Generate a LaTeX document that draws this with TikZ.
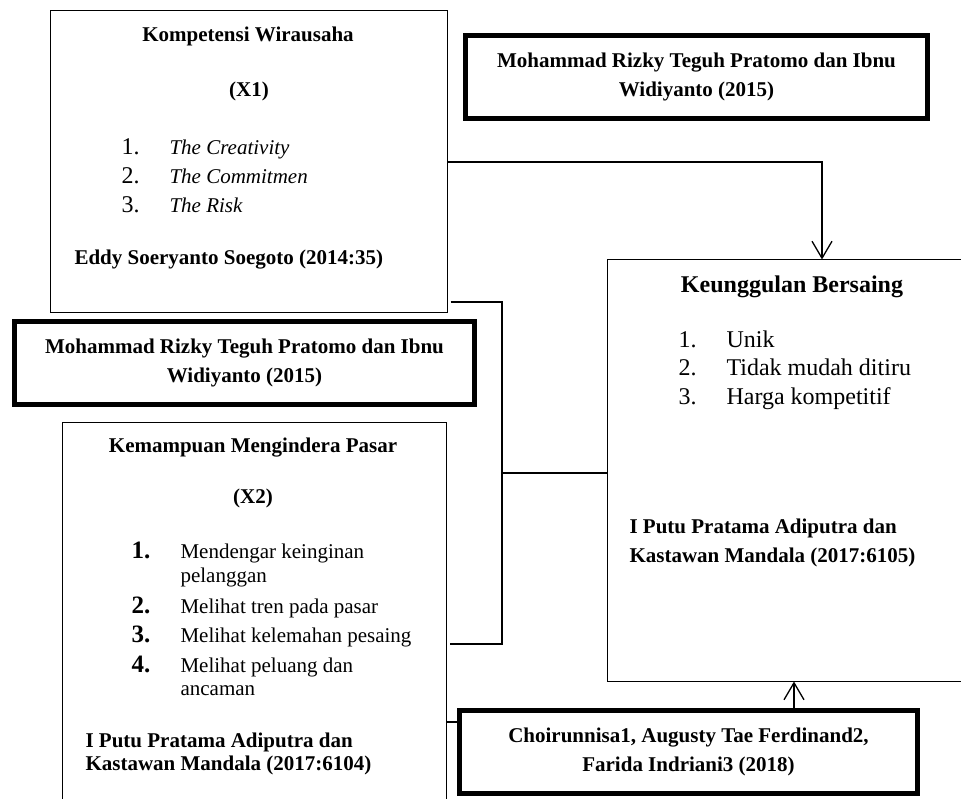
\documentclass[tikz,border=0pt]{standalone}
\usepackage{fontspec}
\setmainfont{Liberation Serif}
\usetikzlibrary{arrows.meta,positioning,calc}
\tikzset{
box/.style={draw, rectangle, line width=1pt, inner sep=0pt},
refbox/.style={draw, rectangle, line width=5pt, inner sep=0pt, align=center,
  font=\fontsize{21}{28.5}\selectfont\bfseries},
conn/.style={line width=1.3pt},
arr/.style={line width=1.3pt, -{Straight Barb[length=17pt,width=20pt]}},
ttl/.style={anchor=base, font=\fontsize{21}{25}\selectfont\bfseries},
auth/.style={anchor=base west, font=\fontsize{21}{25}\selectfont\bfseries},
num/.style={anchor=base west, font=\fontsize{24}{28}\selectfont},
item/.style={anchor=base west, font=\fontsize{21}{25}\selectfont},
}

\begin{document}
\begin{tikzpicture}[x=1pt, y=-1pt]
\useasboundingbox (0,0) rectangle (961,799);
\clip (0,0) rectangle (961,799);

% boxes
\node[box, minimum width=397pt, minimum height=302pt] (x1) at (248.5,162) {};
\node[box, minimum width=384pt, minimum height=428pt] (x2) at (254,636) {};
\node[box, minimum width=403pt, minimum height=421pt] (ku) at (808.5,470.5) {};
\node[refbox, minimum width=462pt, minimum height=83pt] (ref1) at (696.5,77)
  {Mohammad Rizky Teguh Pratomo dan Ibnu\\Widiyanto (2015)};
\node[refbox, minimum width=460pt, minimum height=83pt] (ref2) at (244.5,363)
  {Mohammad Rizky Teguh Pratomo dan Ibnu\\Widiyanto (2015)};
\node[refbox, minimum width=458pt, minimum height=83pt] (ref3) at (688.5,752)
  {Choirunnisa1, Augusty Tae Ferdinand2,\\Farida Indriani3 (2018)};

% X1
\node[ttl] (x1title) at (248,42) {Kompetensi Wirausaha};
\node[ttl] (x1var) at (249,97) {(X1)};
\foreach \t [count=\i] in {The Creativity, The Commitmen, The Risk}{
  \node[num] (x1n\i) at (118,{126+29*\i}) {\i.};
  \node[item, font=\fontsize{21}{25}\selectfont\itshape] (x1i\i) at (166,{126+29*\i}) {\t};
}
\node[auth] (x1src) at (71,265) {Eddy Soeryanto Soegoto (2014:35)};

% Keunggulan Bersaing
\node[ttl, font=\fontsize{24}{28}\selectfont\bfseries] (kutitle) at (792,293) {Keunggulan Bersaing};
\foreach \t [count=\i] in {Unik, Tidak mudah ditiru, Harga kompetitif}{
  \node[num] (kun\i) at (675,{320+28*\i}) {\i.};
  \node[num] (kui\i) at (723,{320+28*\i}) {\t};
}
\node[auth] (kusrc1) at (626,533) {I Putu Pratama Adiputra dan};
\node[auth] (kusrc2) at (626,562) {Kastawan Mandala (2017:6105)};

% X2
\node[ttl] (x2title) at (253,452) {Kemampuan Mengindera Pasar};
\node[ttl] (x2var) at (253,503) {(X2)};
\foreach \n/\y/\t in {1/558/Mendengar keinginan, 2/613/Melihat tren pada pasar,
  3/642/Melihat kelemahan pesaing, 4/672/Melihat peluang dan}{
  \node[num, font=\fontsize{25}{28}\selectfont\bfseries] (x2n\n) at (128,\y) {\n.};
  \node[item] (x2i\n) at (177,\y) {\t};
}
\node[item] (x2i1b) at (177,582) {pelanggan};
\node[item] (x2i4b) at (177,695) {ancaman};
\node[auth] (x2src1) at (82,747) {I Putu Pratama Adiputra dan};
\node[auth] (x2src2) at (82,770) {Kastawan Mandala (2017:6104)};

% connectors
\coordinate (b1) at (822,162);
\draw[arr] (x1.east) -- (b1) -- (b1 |- ku.north);
\coordinate (j1) at (502,302);
\coordinate (j2) at (502,644);
\coordinate (j3) at (502,473);
\draw[conn] ([xshift=3pt]x1.east |- j1) -- (j1) -- (j2) -- ([xshift=3pt]x2.east |- j2);
\draw[conn] (j3) -- (j3 -| ku.west);
\coordinate (c4) at (0,722);
\draw[conn] (x2.east |- c4) -- (ref3.west |- c4);
\coordinate (a3) at (794,0);
\draw[arr] (ref3.north -| a3) -- (ku.south -| a3);
\end{tikzpicture}
\end{document}
